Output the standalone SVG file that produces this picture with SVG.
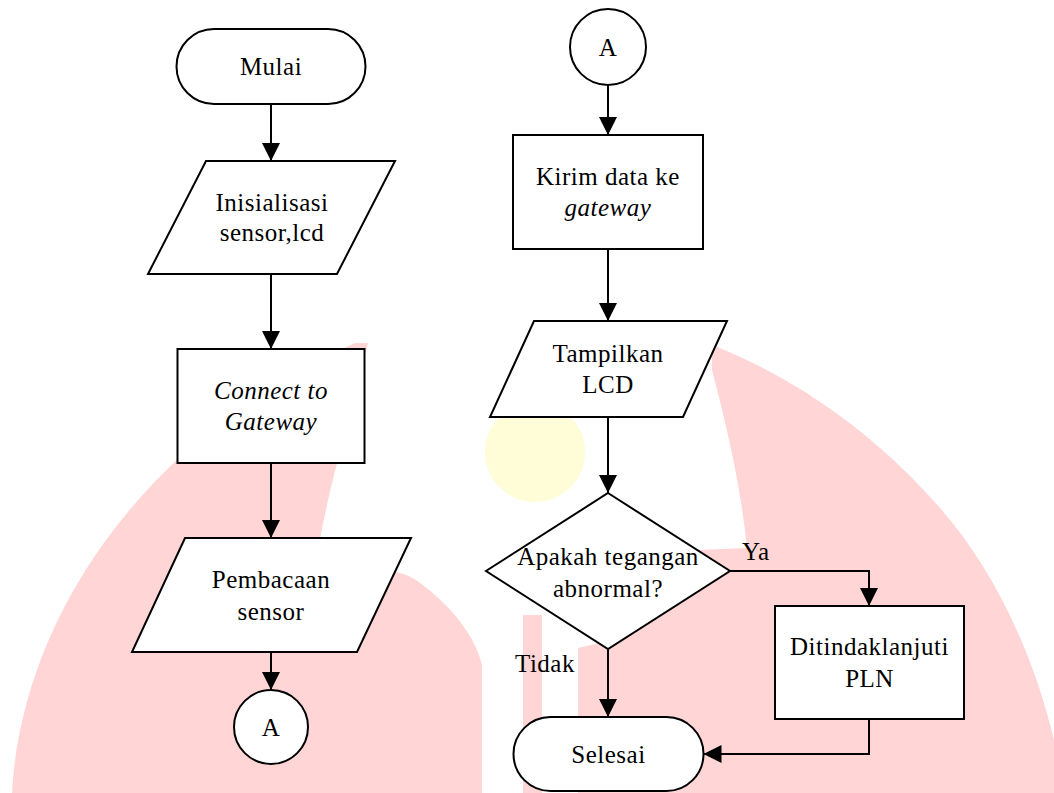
<svg xmlns="http://www.w3.org/2000/svg" width="1054" height="793" viewBox="0 0 1054 793">
<defs>
<style>
.shape{fill:#fff;stroke:#000;stroke-width:2}
.t{font-family:"Liberation Serif","Times New Roman",serif;font-size:25px;fill:#000;text-anchor:middle;letter-spacing:0.5px}
.i{font-style:italic}
.lbl{text-anchor:start}
.conn{fill:none;stroke:#000;stroke-width:2}
.wm{fill:#FFD5D5}
</style>
<marker id="arr" viewBox="0 0 18 18" markerWidth="18" markerHeight="18" refX="18" refY="9" orient="auto" markerUnits="userSpaceOnUse"><path d="M0,0 L18,9 L0,18 Z" fill="#000"/></marker>
</defs>
<rect width="1054" height="793" fill="#fff"/>
<g id="watermark">
<path class="wm" d="M12,793 C20,640 120,450 355,343 L368,343 C355,400 330,480 318,550 C305,640 300,720 300,793 Z"/>
<path class="wm" d="M300,793 L300,600 C340,570 390,560 420,583 C450,605 475,635 482,665 L482,793 Z"/>
<rect class="wm" x="523" y="615" width="19" height="178"/>
<path class="wm" d="M712,345 C790,375 870,430 930,497 C985,555 1030,640 1054,740 L1054,793 L578,793 L578,648 L612,640 L696,550 L747,548 C740,480 725,420 712,370 Z"/>
<circle cx="535" cy="452" r="50" fill="#FEFDD7"/>
</g>
<g id="connectors">
<path class="conn" d="M271,104 L271,161" marker-end="url(#arr)"/>
<path class="conn" d="M271,274 L271,349" marker-end="url(#arr)"/>
<path class="conn" d="M271,463 L271,538" marker-end="url(#arr)"/>
<path class="conn" d="M271,652 L271,690" marker-end="url(#arr)"/>
<path class="conn" d="M608,85 L608,135" marker-end="url(#arr)"/>
<path class="conn" d="M608,249 L608,321" marker-end="url(#arr)"/>
<path class="conn" d="M608,417 L608,493" marker-end="url(#arr)"/>
<path class="conn" d="M730,571 L869,571 L869,606" marker-end="url(#arr)"/>
<path class="conn" d="M608,649 L608,717" marker-end="url(#arr)"/>
<path class="conn" d="M869,719 L869,754 L703.5,754" marker-end="url(#arr)"/>
<text class="t lbl" x="742" y="560">Ya</text>
<text class="t lbl" x="515" y="672">Tidak</text>
</g>
<g id="mulai">
<rect class="shape" x="176.5" y="29" width="189" height="75" rx="37.5"/>
<text class="t" x="271" y="75">Mulai</text>
</g>
<g id="inisialisasi">
<polygon class="shape" points="206,161 395,161 337,274 148,274"/>
<text class="t" x="272" y="211">Inisialisasi</text>
<text class="t" x="272" y="241">sensor,lcd</text>
</g>
<g id="connect">
<rect class="shape" x="177.5" y="349" width="187" height="114"/>
<text class="t i" x="271" y="399">Connect to</text>
<text class="t i" x="271" y="430">Gateway</text>
</g>
<g id="pembacaan">
<polygon class="shape" points="185,538 411,538 357,652 132,652"/>
<text class="t" x="271" y="588">Pembacaan</text>
<text class="t" x="271" y="620">sensor</text>
</g>
<g id="connA1">
<circle class="shape" cx="271" cy="727" r="37"/>
<text class="t" x="271" y="736">A</text>
</g>
<g id="connA2">
<circle class="shape" cx="608" cy="47" r="38"/>
<text class="t" x="608" y="56">A</text>
</g>
<g id="kirim">
<rect class="shape" x="513" y="135" width="190" height="114"/>
<text class="t" x="608" y="185">Kirim data ke</text>
<text class="t i" x="608" y="216">gateway</text>
</g>
<g id="tampilkan">
<polygon class="shape" points="534,321 727,321 683,417 490,417"/>
<text class="t" x="608" y="362">Tampilkan</text>
<text class="t" x="608" y="393">LCD</text>
</g>
<g id="keputusan">
<polygon class="shape" points="608,493 730,571 608,649 486,571"/>
<text class="t" x="608" y="565">Apakah tegangan</text>
<text class="t" x="608" y="597">abnormal?</text>
</g>
<g id="tindak">
<rect class="shape" x="775" y="606" width="189" height="113"/>
<text class="t" x="869.5" y="655">Ditindaklanjuti</text>
<text class="t" x="869.5" y="687">PLN</text>
</g>
<g id="selesai">
<rect class="shape" x="513.5" y="717" width="190" height="74" rx="37"/>
<text class="t" x="608.5" y="763">Selesai</text>
</g>
</svg>
